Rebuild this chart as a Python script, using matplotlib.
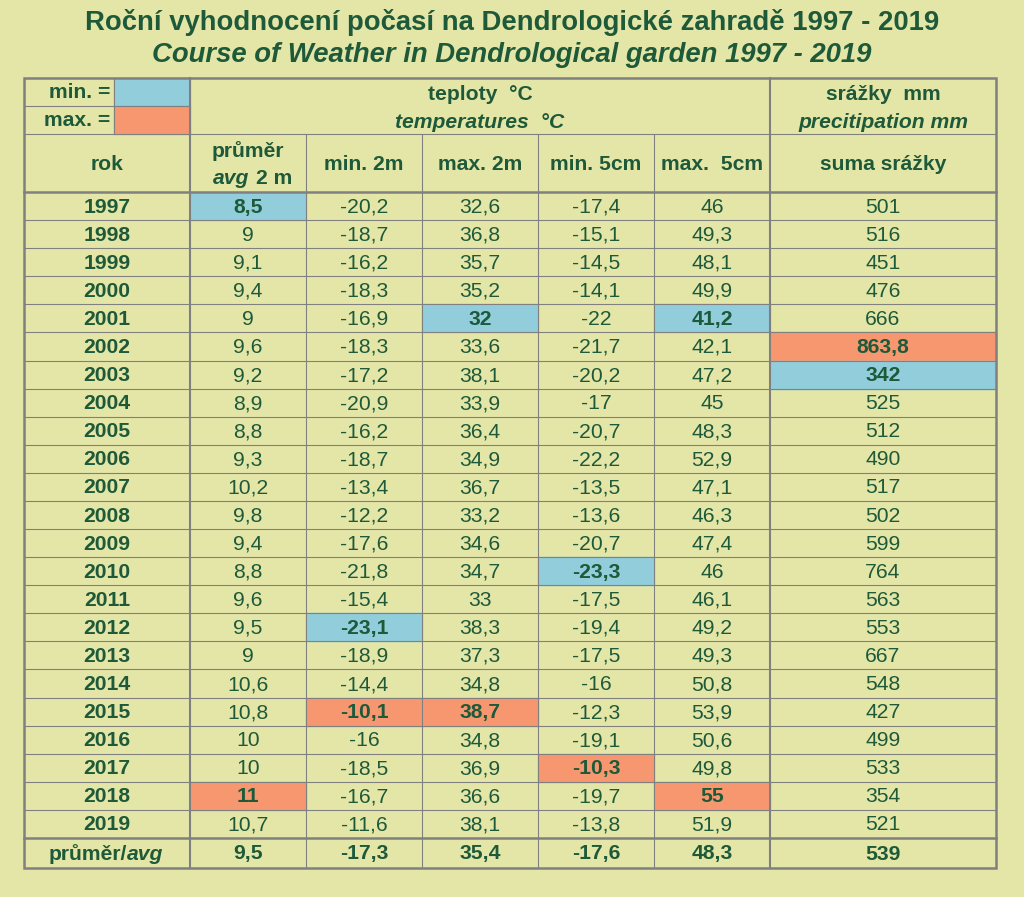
import matplotlib
matplotlib.use("Agg")
import matplotlib.pyplot as plt
import numpy as np

# ---- data ----
years = list(range(1997, 2020))
avg_2m = [8.5, 9, 9.1, 9.4, 9, 9.6, 9.2, 8.9, 8.8, 9.3, 10.2, 9.8, 9.4, 8.8, 9.6, 9.5, 9, 10.6, 10.8, 10, 10, 11, 10.7]
min_2m = [-20.2, -18.7, -16.2, -18.3, -16.9, -18.3, -17.2, -20.9, -16.2, -18.7, -13.4, -12.2, -17.6, -21.8, -15.4, -23.1, -18.9, -14.4, -10.1, -16, -18.5, -16.7, -11.6]
max_2m = [32.6, 36.8, 35.7, 35.2, 32, 33.6, 38.1, 33.9, 36.4, 34.9, 36.7, 33.2, 34.6, 34.7, 33, 38.3, 37.3, 34.8, 38.7, 34.8, 36.9, 36.6, 38.1]
min_5cm = [-17.4, -15.1, -14.5, -14.1, -22, -21.7, -20.2, -17, -20.7, -22.2, -13.5, -13.6, -20.7, -23.3, -17.5, -19.4, -17.5, -16, -12.3, -19.1, -10.3, -19.7, -13.8]
max_5cm = [46, 49.3, 48.1, 49.9, 41.2, 42.1, 47.2, 45, 48.3, 52.9, 47.1, 46.3, 47.4, 46, 46.1, 49.2, 49.3, 50.8, 53.9, 50.6, 49.8, 55, 51.9]
precip = [501, 516, 451, 476, 666, 863.8, 342, 525, 512, 490, 517, 502, 599, 764, 563, 553, 667, 548, 427, 499, 533, 354, 521]
avg_row = [9.5, -17.3, 35.4, -17.6, 48.3, 539]

title_cz = "Roční vyhodnocení počasí na Dendrologické zahradě 1997 - 2019"
title_en = "Course of Weather in Dendrological garden 1997 - 2019"
col_heads = ["min. 2m", "max. 2m", "min. 5cm", "max.  5cm"]

# ---- style ----
BG = "#E4E6A8"
BLUE = "#92CDDC"
ORANGE = "#F7976F"
TXT = "#1E5A3A"
GRID = "#808080"
FONT = "Liberation Sans"
FS = 15.2
TFS = 19.8

W, H = 1024, 897
fig = plt.figure(figsize=(W / 100, H / 100), dpi=100, facecolor=BG)
ax = fig.add_axes([0, 0, 1, 1])
ax.set_xlim(0, W)
ax.set_ylim(H, 0)
ax.axis("off")
ax.set_facecolor(BG)

# geometry (pixels)
xs = [24, 190, 306, 422, 538, 654, 770, 996]
x_sw = 114
y_top, y_r1, y_r2, y_hdr = 78, 106, 134, 192
n = len(years)
y_data_end = 838
rh = (y_data_end - y_hdr) / n
y_bot = 868

def fmt(v):
    return ("%g" % v).replace(".", ",")

def txt(x, y, s, size=FS, weight="normal", style="normal", ha="center"):
    ax.text(x, y, s, ha=ha, va="center", fontsize=size, fontweight=weight,
            fontstyle=style, color=TXT, family=FONT)

# titles
txt(W / 2, 22, title_cz, size=TFS, weight="bold")
txt(W / 2, 55, title_en, size=TFS, weight="bold", style="italic")

# legend swatches
ax.add_patch(plt.Rectangle((x_sw, y_top), xs[1] - x_sw, y_r1 - y_top, color=BLUE, zorder=1))
ax.add_patch(plt.Rectangle((x_sw, y_r1), xs[1] - x_sw, y_r2 - y_r1, color=ORANGE, zorder=1))
txt(x_sw - 4, (y_top + y_r1) / 2 + 1, "min. =", weight="bold", ha="right")
txt(x_sw - 4, (y_r1 + y_r2) / 2 + 1, "max. =", weight="bold", ha="right")

# header texts
cx = [(xs[i] + xs[i + 1]) / 2 for i in range(len(xs) - 1)]
txt((xs[1] + xs[6]) / 2, (y_top + y_r1) / 2 + 2, "teploty  °C", weight="bold")
txt((xs[1] + xs[6]) / 2, (y_r1 + y_r2) / 2 + 2, "temperatures  °C", weight="bold", style="italic")
txt(cx[6], (y_top + y_r1) / 2 + 2, "srážky  mm", weight="bold")
txt(cx[6], (y_r1 + y_r2) / 2 + 2, "precitipation mm", weight="bold", style="italic")
ymid_h = (y_r2 + y_hdr) / 2 + 1
txt(cx[0], ymid_h, "rok", weight="bold")
txt(cx[1], ymid_h - 13, "průměr", weight="bold")
ax.text(cx[1] + 1, ymid_h + 15, "avg", ha="right", va="center", fontsize=FS, fontweight="bold",
        fontstyle="italic", color=TXT, family=FONT)
ax.text(cx[1] + 8, ymid_h + 15, "2 m", ha="left", va="center", fontsize=FS, fontweight="bold",
        color=TXT, family=FONT)
for i, h in enumerate(col_heads):
    txt(cx[2 + i], ymid_h, h, weight="bold")
txt(cx[6], ymid_h, "suma srážky", weight="bold")

# data body
cols = [avg_2m, min_2m, max_2m, min_5cm, max_5cm, precip]
for j, col in enumerate(cols):
    arr = np.array(col)
    imin, imax = int(np.argmin(arr)), int(np.argmax(arr))
    for i, v in enumerate(col):
        y0 = y_hdr + i * rh
        bold = False
        if i == imin or i == imax:
            ax.add_patch(plt.Rectangle((xs[j + 1], y0), xs[j + 2] - xs[j + 1], rh,
                                       color=BLUE if i == imin else ORANGE, zorder=1))
            bold = True
        txt(cx[j + 1], y0 + rh / 2 + 1, fmt(v), weight="bold" if bold else "normal")
for i, yr in enumerate(years):
    y0 = y_hdr + i * rh
    txt(cx[0], y0 + rh / 2 + 1, str(yr), weight="bold")

# average row
ya = (y_data_end + y_bot) / 2 + 1
ax.text(cx[0] + 20, ya, "průměr/", ha="right", va="center", fontsize=FS, fontweight="bold",
        color=TXT, family=FONT)
ax.text(cx[0] + 20, ya, "avg", ha="left", va="center", fontsize=FS, fontweight="bold",
        fontstyle="italic", color=TXT, family=FONT)
for j, v in enumerate(avg_row):
    txt(cx[j + 1], ya, fmt(v), weight="bold")

# grid lines
def hl(y, x0, x1, lw):
    ax.plot([x0, x1], [y, y], color=GRID, lw=lw, zorder=3, solid_capstyle="projecting")

def vl(x, y0, y1, lw):
    ax.plot([x, x], [y0, y1], color=GRID, lw=lw, zorder=3, solid_capstyle="projecting")

hl(y_r1, xs[0], xs[1], 0.8)
hl(y_r2, xs[0], xs[-1], 0.8)
hl(y_hdr, xs[0], xs[-1], 1.8)
for i in range(1, n):
    hl(y_hdr + i * rh, xs[0], xs[-1], 0.8)
hl(y_data_end, xs[0], xs[-1], 1.8)
vl(x_sw, y_top, y_r2, 0.8)
vl(xs[1], y_top, y_bot, 1.5)
vl(xs[6], y_top, y_bot, 1.5)
for k in (2, 3, 4, 5):
    vl(xs[k], y_r2, y_bot, 0.8)
ax.add_patch(plt.Rectangle((xs[0], y_top), xs[-1] - xs[0], y_bot - y_top, fill=False,
                           edgecolor=GRID, lw=1.8, zorder=4))

fig.savefig("out.png", dpi=100, facecolor=BG)
